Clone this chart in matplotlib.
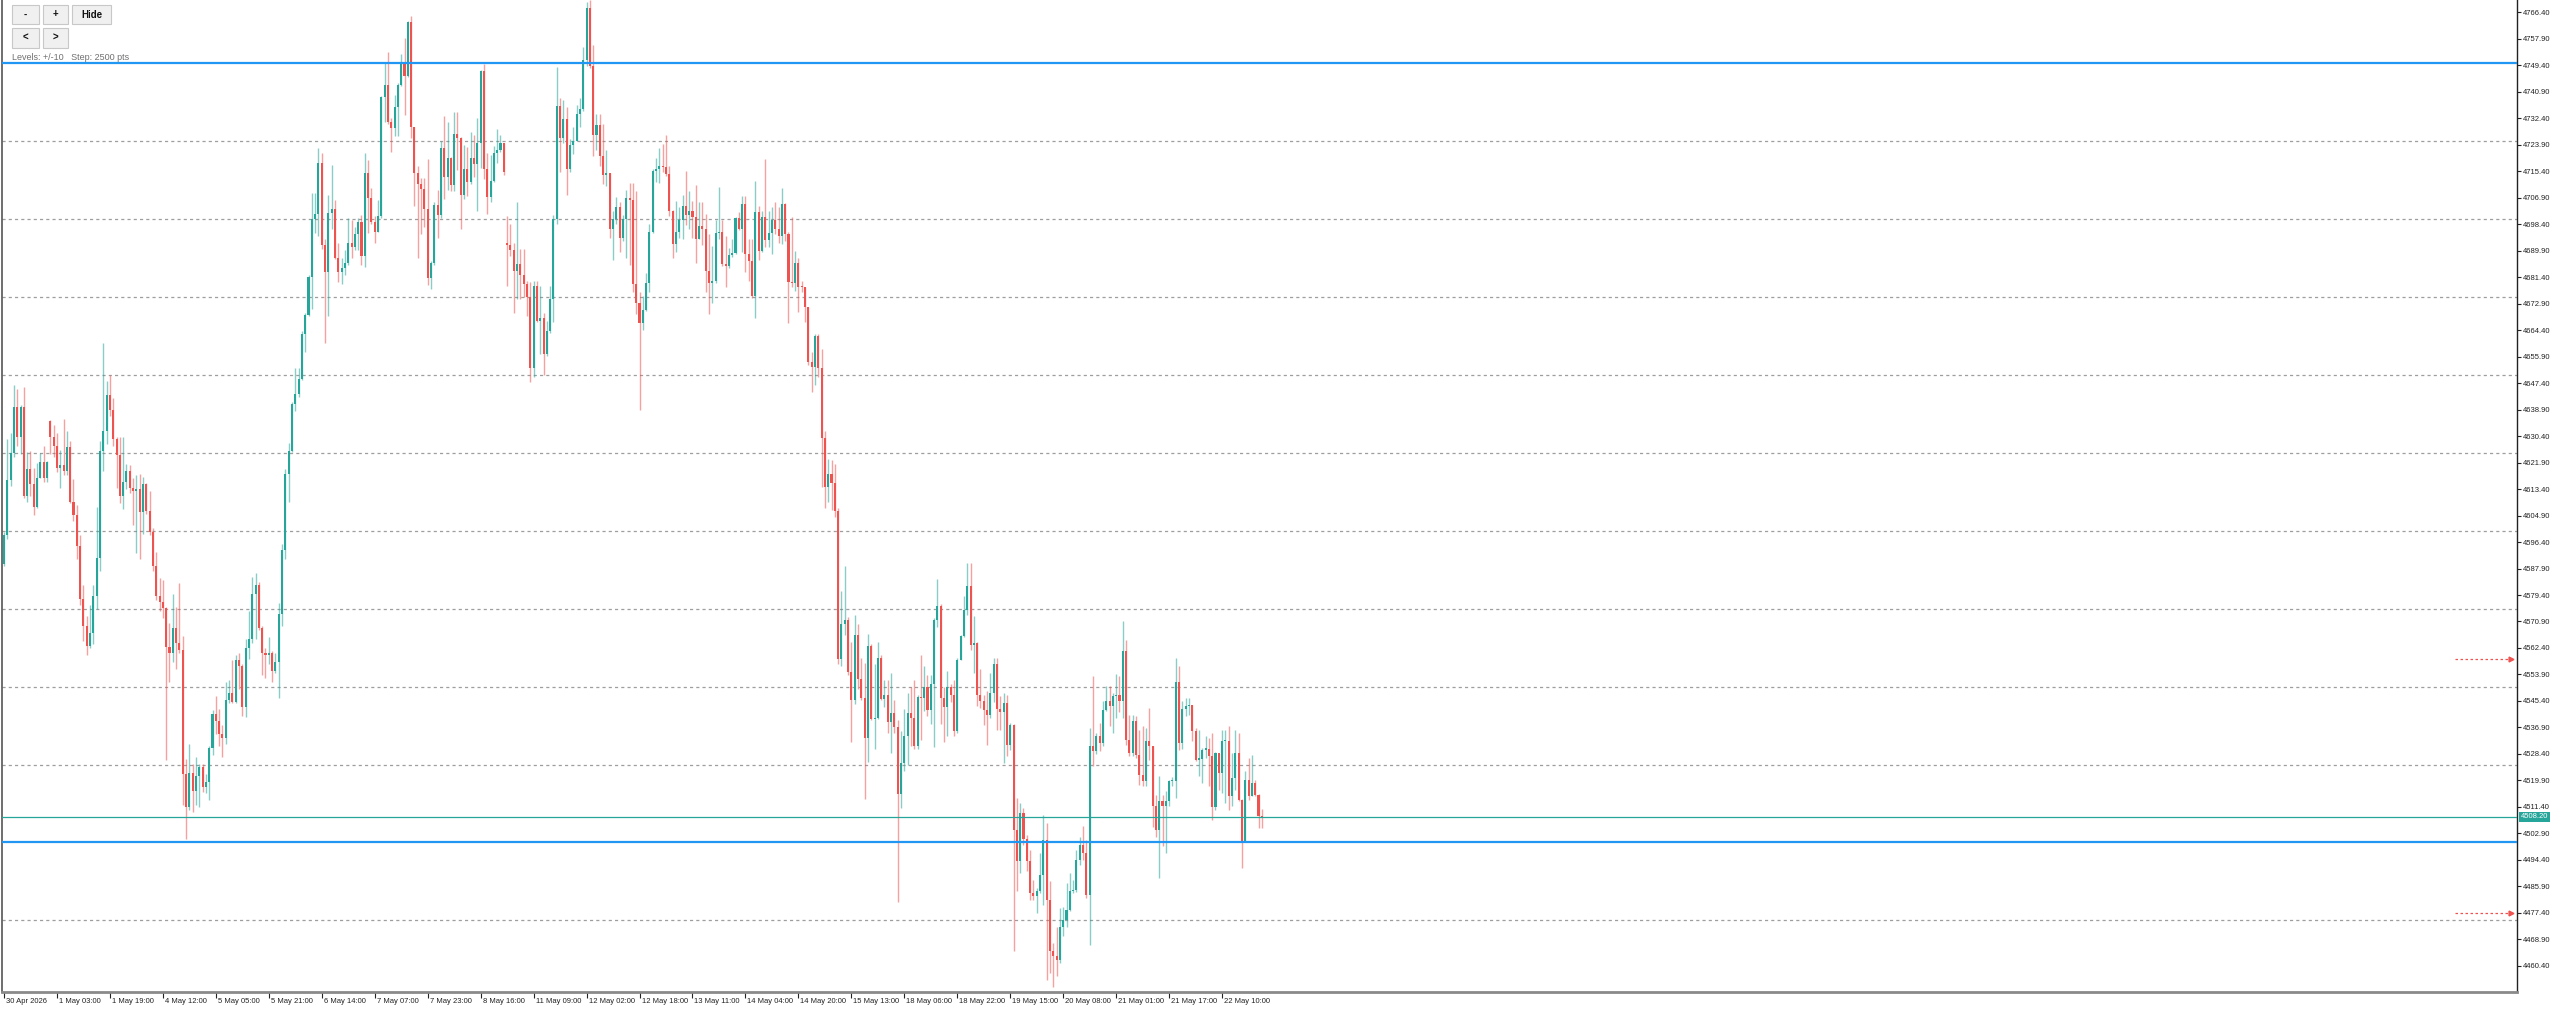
import matplotlib.pyplot as plt
import matplotlib.transforms as mtransforms
from matplotlib.patches import Rectangle
import numpy as np

plt.rcParams['font.family'] = ['Liberation Sans', 'DejaVu Sans']

# OHLC, hourly bars
opens = [
    4589.3, 4598.5, 4616.2, 4625.1, 4639.7, 4630.2, 4639.7, 4611.1, 4619.8, 4615.1,
    4607.6, 4617.1, 4622.2, 4616.8, 4635.3, 4630.2, 4627.1, 4620.2, 4621.0, 4619.3,
    4626.9, 4609.4, 4605.1, 4595.1, 4578.1, 4569.3, 4563.0, 4567.3, 4579.0, 4591.3,
    4625.6, 4631.9, 4643.5, 4638.8, 4629.4, 4624.2, 4611.1, 4615.6, 4619.1, 4613.9,
    4612.8, 4613.4, 4605.9, 4615.1, 4606.5, 4599.6, 4588.7, 4579.0, 4577.3, 4575.3,
    4562.8, 4560.7, 4568.7, 4564.1, 4561.6, 4521.8, 4511.5, 4522.3, 4516.6, 4521.2,
    4524.1, 4517.8, 4519.5, 4530.4, 4541.2, 4538.9, 4534.9, 4533.4, 4545.8, 4548.1,
    4545.2, 4558.4, 4556.7, 4543.5, 4562.4, 4565.3, 4579.6, 4582.5, 4568.7, 4560.7,
    4560.1, 4560.9, 4555.0, 4557.8, 4573.3, 4593.9, 4618.3, 4625.5, 4640.7, 4643.8,
    4648.7, 4663.1, 4669.4, 4681.6, 4700.1, 4701.7, 4717.9, 4691.7, 4683.1, 4702.1,
    4703.2, 4687.7, 4683.1, 4684.3, 4686.0, 4692.3, 4691.2, 4695.2, 4699.2, 4688.3,
    4714.9, 4706.9, 4699.0, 4696.0, 4700.9, 4739.3, 4743.1, 4731.3, 4729.2, 4735.9,
    4743.1, 4750.2, 4746.0, 4763.2, 4729.6, 4714.9, 4711.2, 4709.7, 4703.2, 4681.0,
    4686.0, 4704.6, 4701.5, 4722.9, 4713.5, 4719.8, 4710.9, 4727.5, 4726.1, 4707.8,
    4716.0, 4711.8, 4719.8, 4717.8, 4724.4, 4747.7, 4716.0, 4707.2, 4712.4, 4721.2,
    4722.1, 4724.4, 4692.3, 4691.7, 4690.0, 4683.4, 4685.6, 4682.0, 4679.1, 4675.1,
    4652.2, 4678.5, 4667.3, 4668.2, 4656.7, 4664.2, 4674.5, 4700.1, 4736.2, 4726.1,
    4732.2, 4716.0, 4723.8, 4725.0, 4733.8, 4735.3, 4751.0, 4767.8, 4749.1, 4726.9,
    4730.2, 4720.2, 4714.3, 4714.7, 4696.9, 4700.1, 4703.8, 4694.0, 4700.0, 4706.9,
    4706.1, 4679.3, 4673.1, 4666.7, 4670.9, 4679.5, 4696.0, 4715.6, 4716.0, 4717.0,
    4716.7, 4714.6, 4702.7, 4692.1, 4696.0, 4699.8, 4704.1, 4701.3, 4702.7, 4700.7,
    4693.8, 4697.7, 4696.7, 4683.5, 4679.5, 4680.2, 4695.5, 4695.8, 4685.5, 4685.0,
    4688.4, 4689.1, 4700.3, 4696.7, 4705.0, 4688.8, 4686.7, 4675.2, 4702.4, 4689.8,
    4700.6, 4693.4, 4695.6, 4699.8, 4696.7, 4694.6, 4704.9, 4695.3, 4679.8, 4679.5,
    4686.0, 4678.4, 4678.1, 4671.7, 4654.1, 4652.6, 4662.6, 4652.3, 4629.9, 4614.0,
    4618.3, 4615.4, 4606.3, 4559.0, 4570.1, 4571.5, 4554.7, 4545.7, 4566.5, 4552.5,
    4546.4, 4533.6, 4562.9, 4539.6, 4540.0, 4559.3, 4546.0, 4547.2, 4538.6, 4541.4,
    4537.1, 4515.7, 4525.4, 4534.3, 4541.4, 4540.0, 4531.0, 4546.7, 4546.4, 4550.0,
    4542.4, 4550.7, 4571.5, 4575.8, 4546.4, 4543.6, 4550.0, 4547.2, 4535.7, 4558.6,
    4566.2, 4574.7, 4582.2, 4563.5, 4564.0, 4547.4, 4545.3, 4542.6, 4541.0, 4548.0,
    4557.4, 4542.8, 4541.8, 4544.8, 4531.4, 4537.8, 4504.1, 4493.9, 4509.4, 4501.1,
    4493.9, 4483.7, 4482.7, 4484.3, 4489.6, 4500.9, 4481.6, 4465.0, 4463.4, 4462.3,
    4473.0, 4475.2, 4478.4, 4484.3, 4484.8, 4494.4, 4499.3, 4496.6, 4483.2, 4530.8,
    4529.2, 4534.0, 4531.9, 4542.6, 4545.3, 4543.7, 4546.9, 4547.2, 4545.3, 4561.4,
    4533.0, 4528.7, 4538.9, 4528.2, 4521.7, 4519.6, 4532.4, 4530.8, 4511.6, 4504.1,
    4513.2, 4511.6, 4513.2, 4519.6, 4519.8, 4551.4, 4531.9, 4542.8, 4543.7, 4544.0,
    4535.7, 4526.6, 4526.8, 4529.8, 4530.0, 4527.6, 4511.4, 4528.7, 4522.3, 4532.4,
    4532.7, 4514.8, 4520.7, 4528.7, 4513.7, 4500.3, 4520.1, 4515.0, 4519.1, 4515.3,
    4508.4,
]
highs = [
    4599.5, 4629.4, 4631.5, 4646.9, 4645.4, 4640.5, 4646.0, 4625.4, 4625.6, 4620.2,
    4621.7, 4625.1, 4627.3, 4622.5, 4635.7, 4634.0, 4631.4, 4626.0, 4635.9, 4632.1,
    4628.8, 4616.5, 4608.2, 4598.5, 4582.5, 4572.7, 4576.2, 4582.5, 4607.6, 4628.8,
    4660.3, 4648.0, 4650.0, 4642.6, 4630.0, 4630.0, 4630.0, 4621.4, 4621.2, 4616.8,
    4617.9, 4618.2, 4617.4, 4615.5, 4612.8, 4600.8, 4593.3, 4584.7, 4584.2, 4575.5,
    4570.4, 4579.6, 4575.6, 4583.3, 4566.4, 4526.9, 4531.5, 4525.2, 4527.5, 4525.2,
    4525.2, 4521.8, 4530.9, 4542.4, 4546.9, 4542.9, 4537.8, 4551.6, 4552.1, 4558.4,
    4560.1, 4560.7, 4557.3, 4565.3, 4574.4, 4585.3, 4586.5, 4583.6, 4569.3, 4562.4,
    4565.8, 4561.3, 4560.7, 4576.7, 4595.9, 4620.0, 4628.1, 4641.3, 4652.2, 4652.2,
    4664.2, 4669.9, 4682.0, 4708.4, 4708.4, 4722.9, 4721.2, 4693.5, 4707.8, 4717.5,
    4706.1, 4692.3, 4687.7, 4690.0, 4700.3, 4699.8, 4697.5, 4700.3, 4701.5, 4721.2,
    4718.9, 4710.1, 4700.9, 4706.3, 4739.6, 4750.6, 4753.7, 4732.4, 4739.9, 4743.6,
    4752.9, 4758.3, 4763.6, 4765.1, 4729.6, 4717.0, 4713.2, 4713.2, 4719.3, 4686.6,
    4705.5, 4709.5, 4725.2, 4733.0, 4731.1, 4720.0, 4734.5, 4734.5, 4726.4, 4723.8,
    4723.3, 4727.9, 4726.9, 4732.4, 4747.9, 4749.9, 4721.2, 4720.7, 4723.5, 4728.8,
    4726.9, 4724.6, 4700.9, 4698.6, 4692.3, 4705.5, 4690.6, 4690.6, 4680.3, 4679.7,
    4680.3, 4680.3, 4678.5, 4669.9, 4667.4, 4678.5, 4701.5, 4748.8, 4738.8, 4738.2,
    4735.9, 4725.6, 4729.6, 4736.5, 4738.8, 4755.4, 4769.7, 4770.3, 4756.0, 4733.8,
    4733.8, 4730.7, 4722.1, 4714.9, 4702.6, 4707.2, 4705.5, 4701.5, 4709.5, 4711.6,
    4711.7, 4708.9, 4676.7, 4675.2, 4682.7, 4698.4, 4716.0, 4719.6, 4722.7, 4724.2,
    4727.0, 4717.0, 4703.1, 4706.0, 4703.9, 4707.7, 4715.6, 4708.9, 4706.0, 4711.0,
    4705.6, 4705.6, 4701.7, 4695.3, 4691.3, 4699.8, 4710.3, 4699.8, 4694.6, 4690.7,
    4693.8, 4700.7, 4702.4, 4707.4, 4707.4, 4693.8, 4693.8, 4712.4, 4704.1, 4702.7,
    4719.2, 4702.7, 4703.9, 4705.6, 4703.9, 4710.0, 4705.1, 4696.0, 4700.7, 4689.8,
    4687.4, 4680.2, 4678.4, 4671.7, 4657.3, 4663.1, 4663.1, 4658.4, 4632.0, 4623.0,
    4622.6, 4621.6, 4607.3, 4580.8, 4588.7, 4572.5, 4564.3, 4572.9, 4570.1, 4559.3,
    4557.6, 4566.9, 4563.6, 4557.2, 4564.3, 4560.0, 4552.2, 4552.2, 4554.3, 4545.7,
    4539.3, 4535.7, 4542.9, 4547.9, 4550.0, 4552.2, 4547.2, 4560.0, 4556.7, 4553.6,
    4553.6, 4572.0, 4584.4, 4576.5, 4550.0, 4555.0, 4550.7, 4552.2, 4559.3, 4566.7,
    4579.0, 4589.7, 4589.7, 4572.6, 4564.2, 4555.5, 4547.4, 4548.5, 4554.4, 4559.2,
    4559.2, 4546.9, 4548.0, 4547.4, 4538.3, 4538.0, 4514.2, 4512.6, 4511.0, 4502.5,
    4497.7, 4488.0, 4485.3, 4496.6, 4508.9, 4506.2, 4487.5, 4467.7, 4473.0, 4478.9,
    4479.4, 4487.0, 4490.2, 4488.0, 4497.7, 4501.9, 4505.4, 4500.9, 4536.7, 4553.3,
    4535.1, 4538.3, 4545.3, 4550.1, 4550.1, 4548.0, 4553.9, 4553.3, 4571.0, 4565.1,
    4541.0, 4541.0, 4540.5, 4536.2, 4537.3, 4536.7, 4543.2, 4531.0, 4515.3, 4521.2,
    4515.3, 4516.4, 4520.1, 4521.0, 4559.2, 4556.5, 4545.3, 4546.4, 4546.4, 4544.0,
    4536.7, 4536.2, 4530.3, 4534.0, 4533.5, 4535.1, 4528.9, 4528.7, 4536.2, 4536.2,
    4537.3, 4528.7, 4536.2, 4535.1, 4514.0, 4522.8, 4527.1, 4528.2, 4520.1, 4515.5,
    4510.7,
]
lows = [
    4588.7, 4597.5, 4614.5, 4623.7, 4627.1, 4624.8, 4610.5, 4609.4, 4611.3, 4605.1,
    4607.4, 4616.8, 4615.6, 4615.6, 4624.8, 4623.7, 4618.8, 4613.9, 4617.9, 4617.9,
    4608.8, 4603.0, 4591.0, 4576.2, 4564.7, 4560.1, 4562.4, 4563.6, 4575.0, 4587.0,
    4619.1, 4628.0, 4637.0, 4627.1, 4613.9, 4608.8, 4607.0, 4613.4, 4612.2, 4601.9,
    4592.8, 4591.0, 4599.0, 4605.4, 4598.5, 4587.0, 4577.9, 4574.4, 4572.1, 4526.3,
    4551.6, 4557.8, 4555.6, 4560.7, 4512.1, 4501.1, 4510.3, 4509.7, 4512.1, 4511.5,
    4516.3, 4516.0, 4513.7, 4528.1, 4534.9, 4530.9, 4527.5, 4531.5, 4544.6, 4544.6,
    4544.6, 4549.3, 4540.6, 4540.1, 4559.0, 4564.1, 4565.3, 4568.1, 4553.8, 4552.9,
    4557.3, 4551.6, 4554.4, 4546.4, 4569.3, 4590.8, 4609.2, 4625.2, 4638.4, 4643.0,
    4648.5, 4657.3, 4668.8, 4671.1, 4695.7, 4694.6, 4690.6, 4660.4, 4668.8, 4696.9,
    4687.1, 4679.7, 4679.1, 4682.0, 4685.4, 4687.7, 4690.0, 4690.0, 4685.4, 4684.8,
    4695.7, 4698.6, 4692.3, 4695.8, 4700.3, 4731.3, 4730.7, 4721.6, 4726.7, 4726.7,
    4742.8, 4733.6, 4745.6, 4726.1, 4704.3, 4687.7, 4695.2, 4697.5, 4679.0, 4677.6,
    4685.4, 4694.0, 4700.3, 4706.6, 4709.5, 4709.0, 4709.0, 4715.8, 4696.9, 4706.6,
    4707.4, 4711.2, 4713.5, 4702.6, 4716.4, 4712.9, 4701.7, 4705.5, 4711.8, 4718.1,
    4721.6, 4714.1, 4678.5, 4688.3, 4669.9, 4674.5, 4674.5, 4675.1, 4668.8, 4647.6,
    4649.3, 4667.0, 4656.7, 4650.1, 4656.2, 4663.6, 4667.1, 4698.6, 4715.2, 4724.4,
    4707.8, 4715.2, 4721.0, 4725.0, 4729.6, 4734.7, 4749.1, 4748.5, 4720.4, 4722.1,
    4717.0, 4711.2, 4710.7, 4694.0, 4686.8, 4698.6, 4689.4, 4693.0, 4687.7, 4685.4,
    4676.7, 4669.5, 4638.7, 4664.5, 4670.4, 4676.7, 4695.5, 4712.0, 4711.7, 4715.0,
    4713.9, 4701.0, 4687.4, 4689.5, 4694.1, 4693.8, 4698.1, 4696.7, 4694.1, 4686.0,
    4693.8, 4691.7, 4676.7, 4669.5, 4673.1, 4679.5, 4693.8, 4685.0, 4678.1, 4684.5,
    4688.0, 4688.8, 4696.4, 4689.5, 4683.1, 4680.2, 4674.8, 4668.4, 4687.0, 4689.5,
    4691.0, 4691.0, 4688.8, 4695.3, 4692.4, 4692.1, 4693.0, 4666.7, 4678.1, 4676.9,
    4670.2, 4676.7, 4666.9, 4653.1, 4644.5, 4646.9, 4649.5, 4614.0, 4607.3, 4609.4,
    4606.8, 4604.4, 4557.2, 4556.5, 4566.5, 4553.6, 4532.1, 4544.3, 4549.3, 4545.7,
    4513.8, 4525.7, 4539.2, 4530.0, 4539.5, 4545.7, 4543.6, 4535.0, 4528.6, 4535.0,
    4481.0, 4511.0, 4522.8, 4525.0, 4531.0, 4530.0, 4530.0, 4532.9, 4542.2, 4540.7,
    4537.9, 4530.7, 4569.0, 4537.9, 4532.1, 4534.3, 4545.0, 4534.3, 4535.0, 4558.5,
    4565.8, 4573.0, 4561.9, 4554.4, 4543.7, 4543.2, 4537.8, 4531.4, 4540.0, 4545.0,
    4536.2, 4536.2, 4525.5, 4527.6, 4529.8, 4465.0, 4484.3, 4490.2, 4499.3, 4490.7,
    4481.6, 4481.6, 4477.3, 4483.7, 4480.0, 4455.9, 4458.0, 4453.7, 4457.0, 4461.2,
    4470.0, 4473.0, 4478.0, 4483.7, 4484.0, 4492.8, 4494.4, 4482.1, 4467.1, 4524.4,
    4528.5, 4529.2, 4531.0, 4542.1, 4537.3, 4535.1, 4540.0, 4542.0, 4540.0, 4531.4,
    4527.6, 4527.6, 4527.1, 4518.5, 4518.0, 4518.0, 4526.6, 4505.1, 4501.9, 4488.5,
    4498.7, 4496.6, 4511.6, 4518.0, 4514.2, 4529.8, 4530.0, 4540.5, 4541.0, 4532.4,
    4526.0, 4521.2, 4519.1, 4527.0, 4518.0, 4507.3, 4510.5, 4516.9, 4515.9, 4512.6,
    4510.5, 4511.6, 4516.9, 4513.2, 4491.8, 4500.0, 4513.7, 4514.8, 4514.8, 4504.6,
    4504.6,
]
closes = [
    4598.5, 4616.2, 4625.1, 4639.7, 4630.2, 4639.7, 4611.1, 4619.8, 4615.1, 4607.6,
    4617.1, 4622.2, 4616.8, 4622.2, 4630.2, 4627.1, 4620.2, 4621.0, 4619.3, 4626.9,
    4609.4, 4605.1, 4595.1, 4578.1, 4569.3, 4563.0, 4567.3, 4579.0, 4591.3, 4625.6,
    4631.9, 4643.5, 4638.8, 4629.4, 4624.2, 4611.1, 4615.6, 4619.1, 4613.9, 4612.8,
    4613.4, 4605.9, 4615.1, 4606.5, 4599.6, 4588.7, 4579.0, 4577.3, 4575.3, 4562.8,
    4560.7, 4568.7, 4564.1, 4561.6, 4521.8, 4511.5, 4522.3, 4516.6, 4521.2, 4524.1,
    4517.8, 4519.5, 4530.4, 4541.2, 4538.9, 4534.9, 4533.4, 4545.8, 4548.1, 4545.2,
    4558.4, 4556.7, 4543.5, 4562.4, 4565.3, 4579.6, 4582.5, 4568.7, 4560.7, 4560.1,
    4560.9, 4555.0, 4557.8, 4573.3, 4593.9, 4618.3, 4625.5, 4640.7, 4643.8, 4648.7,
    4663.1, 4669.4, 4681.6, 4700.1, 4701.7, 4717.9, 4691.7, 4683.1, 4702.1, 4703.2,
    4687.7, 4683.1, 4684.3, 4686.0, 4692.3, 4691.2, 4695.2, 4699.2, 4688.3, 4714.9,
    4706.9, 4699.0, 4696.0, 4700.9, 4739.3, 4743.1, 4731.3, 4729.2, 4735.9, 4743.1,
    4750.2, 4746.0, 4763.2, 4729.6, 4714.9, 4711.2, 4709.7, 4703.2, 4681.0, 4686.0,
    4704.6, 4701.5, 4722.9, 4713.5, 4719.8, 4710.9, 4727.5, 4726.1, 4707.8, 4716.0,
    4711.8, 4719.8, 4717.8, 4724.4, 4747.7, 4716.0, 4707.2, 4712.4, 4721.2, 4722.1,
    4724.4, 4715.2, 4691.7, 4690.0, 4683.4, 4685.6, 4682.0, 4679.1, 4675.1, 4652.2,
    4678.5, 4667.3, 4668.2, 4656.7, 4664.2, 4674.5, 4700.1, 4736.2, 4726.1, 4732.2,
    4716.0, 4723.8, 4725.0, 4733.8, 4735.3, 4751.0, 4767.8, 4749.1, 4726.9, 4730.2,
    4720.2, 4714.3, 4714.7, 4696.9, 4700.1, 4703.8, 4694.0, 4700.0, 4706.9, 4706.1,
    4679.3, 4673.1, 4666.7, 4670.9, 4679.5, 4696.0, 4715.6, 4716.0, 4717.0, 4716.7,
    4714.6, 4702.7, 4692.1, 4696.0, 4699.8, 4704.1, 4701.3, 4702.7, 4700.7, 4693.8,
    4697.7, 4696.7, 4683.5, 4679.5, 4680.2, 4695.5, 4695.8, 4685.5, 4685.0, 4688.4,
    4689.1, 4700.3, 4696.7, 4705.0, 4688.8, 4686.7, 4675.2, 4702.4, 4689.8, 4700.6,
    4693.4, 4695.6, 4699.8, 4696.7, 4694.6, 4704.9, 4695.3, 4679.8, 4679.5, 4686.0,
    4678.4, 4678.1, 4671.7, 4654.1, 4652.6, 4662.6, 4652.3, 4629.9, 4614.0, 4618.3,
    4615.4, 4606.3, 4559.0, 4570.1, 4571.5, 4554.7, 4545.7, 4566.5, 4552.5, 4546.4,
    4533.6, 4562.9, 4539.6, 4540.0, 4559.3, 4546.0, 4547.2, 4538.6, 4541.4, 4537.1,
    4515.7, 4525.4, 4534.3, 4541.4, 4540.0, 4531.0, 4546.7, 4546.4, 4550.0, 4542.4,
    4550.7, 4571.5, 4575.8, 4546.4, 4543.6, 4550.0, 4547.2, 4535.7, 4558.6, 4566.2,
    4574.7, 4582.2, 4563.5, 4564.0, 4547.4, 4545.3, 4542.6, 4541.0, 4548.0, 4557.4,
    4542.8, 4541.8, 4544.8, 4531.4, 4537.8, 4504.1, 4493.9, 4509.4, 4501.1, 4493.9,
    4483.7, 4482.7, 4484.3, 4489.6, 4500.9, 4481.6, 4465.0, 4463.4, 4462.3, 4473.0,
    4475.2, 4478.4, 4484.3, 4484.8, 4494.4, 4499.3, 4496.6, 4483.2, 4530.8, 4529.2,
    4534.0, 4531.9, 4542.6, 4545.3, 4543.7, 4546.9, 4547.2, 4545.3, 4561.4, 4533.0,
    4528.7, 4538.9, 4528.2, 4521.7, 4519.6, 4532.4, 4530.8, 4511.6, 4504.1, 4513.2,
    4511.6, 4513.2, 4519.6, 4519.8, 4551.4, 4531.9, 4542.8, 4543.7, 4544.0, 4535.7,
    4526.6, 4526.8, 4529.8, 4530.0, 4527.6, 4511.4, 4528.7, 4522.3, 4532.4, 4532.7,
    4514.8, 4520.7, 4528.7, 4513.7, 4500.3, 4520.1, 4515.0, 4519.1, 4515.3, 4508.4,
    4508.2,
]

time_labels = ['30 Apr 2026', '1 May 03:00', '1 May 19:00', '4 May 12:00', '5 May 05:00',
               '5 May 21:00', '6 May 14:00', '7 May 07:00', '7 May 23:00', '8 May 16:00',
               '11 May 09:00', '12 May 02:00', '12 May 18:00', '13 May 11:00', '14 May 04:00',
               '14 May 20:00', '15 May 13:00', '18 May 06:00', '18 May 22:00', '19 May 15:00',
               '20 May 08:00', '21 May 01:00', '21 May 17:00', '22 May 10:00']
label_every = 16   # bars between time labels

main_levels = [4750.0, 4500.0]
grid_levels = [4725, 4700, 4675, 4650, 4625, 4600, 4575, 4550, 4525, 4475]
alert_levels = [4558.8, 4477.3]
last_price = 4508.20
price_top, price_step, n_price_ticks = 4766.40, 8.5, 37

teal = '#26a69a'
red = '#ef5350'
blue = '#2196f3'

o = np.array(opens)
h = np.array(highs)
l = np.array(lows)
c = np.array(closes)
x = np.arange(len(c))
up = c >= o

W, H = 2560, 1010
fig = plt.figure(figsize=(W / 100, H / 100), dpi=100)
ax = fig.add_axes([2 / W, 18 / H, 2515 / W, 992 / H])

# level lines
for lv in grid_levels:
    ax.axhline(lv, color='#9e9e9e', lw=0.9, ls=(0, (2.5, 2.5)), zorder=0)
for lv in main_levels:
    ax.axhline(lv, color=blue, lw=1.6, zorder=3)
ax.axhline(last_price, color=teal, lw=0.9, zorder=3)

# candles
lo = np.minimum(l, np.minimum(o, c))
hi = np.maximum(h, np.maximum(o, c))
ax.vlines(x[up], lo[up], hi[up], colors=teal, alpha=0.55, lw=1.0, zorder=1)
ax.vlines(x[~up], lo[~up], hi[~up], colors=red, alpha=0.55, lw=1.0, zorder=1)
body = np.maximum(np.abs(c - o), 0.4)
ax.bar(x, body, bottom=np.minimum(o, c), width=0.62,
       color=np.where(up, teal, red), linewidth=0, zorder=2)

ax.set_xlim(-0.6, 759.2)
ax.set_ylim(4452.0, 4770.35)

# axes look
ax.spines['top'].set_visible(False)
ax.spines['left'].set_color('#555555')
ax.spines['left'].set_linewidth(1.2)
ax.spines['bottom'].set_color('#8a8a8a')
ax.spines['bottom'].set_linewidth(2)
ax.spines['right'].set_color('#222222')
ax.spines['right'].set_linewidth(1)

ticks = [price_top - price_step * k for k in range(n_price_ticks)]
ax.yaxis.tick_right()
ax.set_yticks(ticks)
ax.set_yticklabels([f'{v:.2f}' for v in ticks])
ax.tick_params(axis='y', length=3, width=0.8, colors='#222222', labelsize=5.5, pad=1.5)

ax.set_xticks([k * label_every for k in range(len(time_labels))])
ax.set_xticklabels(time_labels, ha='left')
ax.tick_params(axis='x', length=4, width=0.8, colors='#222222', labelsize=5.5, pad=0.5)
shift = mtransforms.ScaledTranslation(2 / 100, 0, fig.dpi_scale_trans)
for lab in ax.get_xticklabels():
    lab.set_transform(lab.get_transform() + shift)

# price box and alert markers on the right
blend = mtransforms.blended_transform_factory(ax.transAxes, ax.transData)
ax.text(1.0, last_price, '4508.20', transform=blend + mtransforms.ScaledTranslation(4 / 100, 0, fig.dpi_scale_trans),
        ha='left', va='center', fontsize=5.5, color='white', clip_on=False, zorder=5,
        bbox=dict(boxstyle='square,pad=0.2', fc=teal, ec='none'))
for lv in alert_levels:
    ax.plot([0.9753, 0.9975], [lv, lv], transform=blend, color=red, lw=0.9,
            ls=(0, (2, 2)), clip_on=False, zorder=4)
    ax.plot([0.9978], [lv], transform=blend, color=red, marker='>', ms=3.5,
            clip_on=False, zorder=4)

# panel buttons in the top-left corner
def button(x0, y0, x1, y1, text):
    fig.add_artist(Rectangle((x0 / W, 1 - y1 / H), (x1 - x0) / W, (y1 - y0) / H,
                             transform=fig.transFigure, fc='#f0f0f0', ec='#c8c8c8', lw=0.8))
    fig.text((x0 + x1) / 2 / W, 1 - (y0 + y1) / 2 / H, text, ha='center', va='center',
             fontsize=7, fontweight='bold', color='#111111')

button(12, 5, 39, 24, '-')
button(43, 5, 68, 24, '+')
button(72, 5, 111, 24, 'Hide')
button(12, 28, 39, 48, '<')
button(43, 28, 68, 48, '>')
fig.text(12 / W, 1 - 58 / H, 'Levels: +/-10   Step: 2500 pts', ha='left', va='center',
         fontsize=6.5, color='#707070')

fig.savefig('out.png', dpi=100)
